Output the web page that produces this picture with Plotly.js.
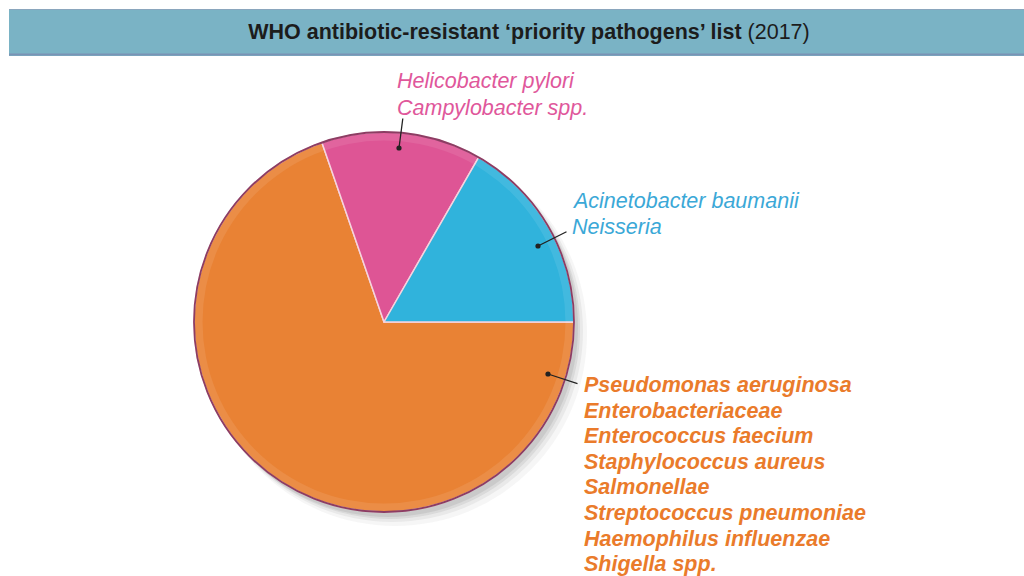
<!DOCTYPE html>
<html>
<head>
<meta charset="utf-8">
<script src="https://cdn.plot.ly/plotly-3.0.1.min.js"></script>
<style>html,body{margin:0;padding:0;background:#fff;}#chart{width:1024px;height:576px;}</style>
</head>
<body>
<div id="chart"></div>
<script>
// ---- data ----
const groups = ["Acinetobacter / Neisseria", "Helicobacter / Campylobacter", "Pseudomonas and others"];
const shares = [16.7, 13.6, 69.7];
const sliceColors = ["#30b3dc", "#de5595", "#e98234"];
const textColors = ["#3ba8d7", "#e0579b", "#ea7b2b"];
const blueLines = ["Acinetobacter baumanii", "Neisseria"];
const pinkLines = ["Helicobacter pylori", "Campylobacter spp."];
const orangeLines = ["Pseudomonas aeruginosa", "Enterobacteriaceae", "Enterococcus faecium",
  "Staphylococcus aureus", "Salmonellae", "Streptococcus pneumoniae",
  "Haemophilus influenzae", "Shigella spp."];
const titleBold = "WHO antibiotic-resistant ‘priority pathogens’ list";
const titleYear = "(2017)";

// ---- layout helpers (pixel -> paper) ----
const W = 1024, H = 576;
const cx = 384, cy = 322, R = 190;
function dom(dx, dy, r) {
  return { x: [(cx + dx - r) / W, (cx + dx + r) / W], y: [(H - (cy + dy) - r) / H, (H - (cy + dy) + r) / H] };
}
const px = v => v / W, py = v => 1 - v / H;

const common = { type: "pie", sort: false, textinfo: "none", hoverinfo: "skip", showlegend: false };

const traces = [];
// soft shadow
[[11, 12, 192, 0.05], [8, 9, 191, 0.07], [6, 7, 190, 0.09], [4, 5, 190, 0.1]].forEach(s => {
  traces.push(Object.assign({}, common, { values: [1], domain: dom(s[0], s[1], s[2]),
    marker: { colors: ["rgba(70,70,70," + s[3] + ")"], line: { width: 0 } } }));
});
// main pie: first group starts at 3 o'clock going counter-clockwise
// (drawn clockwise with reversed order so it ends at 3 o'clock)
traces.push(Object.assign({}, common, {
  values: shares.slice().reverse(), labels: groups.slice().reverse(),
  direction: "clockwise", rotation: 90,
  domain: dom(0, 0, R),
  marker: { colors: sliceColors.slice().reverse(), line: { color: "#f6d3de", width: 1.5 } }
}));
// subtle rim highlight
traces.push(Object.assign({}, common, { values: [1], hole: 0.955, domain: dom(0, 0, R),
  marker: { colors: ["rgba(255,255,255,0.09)"], line: { width: 0 } } }));
// outer outline
traces.push(Object.assign({}, common, { values: [1], domain: dom(0, 0, R),
  marker: { colors: ["rgba(0,0,0,0)"], line: { color: "#8c3d63", width: 1.8 } } }));

const annotations = [];
function label(lines, x, yFirst, step, color, bold) {
  lines.forEach((l, i) => {
    annotations.push({ xref: "paper", yref: "paper", x: px(x), y: py(yFirst + i * step), xanchor: "left", yanchor: "middle",
      align: "left", showarrow: false,
      text: "<i>" + (bold ? "<b>" + l + "</b>" : l) + "</i>",
      font: { family: "Liberation Sans, Arial, sans-serif", size: 21.5, color: color } });
  });
}
label(pinkLines, 395, 81, 26.7, textColors[1], false);
label(blueLines, 570, 201, 26, textColors[0], false);
label(orangeLines, 582, 385, 25.6, textColors[2], true);

function leader(hx, hy, ax, ay) {
  annotations.push({ xref: "paper", yref: "paper", x: px(hx), y: py(hy), ax: ax, ay: ay, text: "",
    showarrow: true, arrowhead: 6, arrowsize: 1, arrowwidth: 1.3, arrowcolor: "#222" });
}
leader(399, 148, 4, -31);
leader(538, 246, 30, -15);
leader(548, 374, 31, 10);

const layout = {
  width: W, height: H, margin: { l: 0, r: 0, t: 0, b: 0 },
  paper_bgcolor: "#ffffff",
  title: { text: "<b>" + titleBold + "</b> " + titleYear, x: px(529), xanchor: "center",
    y: py(31), yanchor: "middle", yref: "container",
    font: { family: "Liberation Sans, Arial, sans-serif", size: 21.5, color: "#1c1c1c" } },
  shapes: [
    { type: "rect", xref: "paper", yref: "paper", x0: px(9), x1: 1, y0: py(56), y1: py(9),
      fillcolor: "#7ab3c5", line: { width: 0 }, layer: "below" },
    { type: "line", xref: "paper", yref: "paper", x0: px(9), x1: 1, y0: py(54.5), y1: py(54.5),
      line: { color: "#7a93b5", width: 2 }, layer: "below" },
    { type: "line", xref: "paper", yref: "paper", x0: px(9), x1: 1, y0: py(9.5), y1: py(9.5),
      line: { color: "#8aa6bd", width: 1 }, layer: "below" }
  ],
  annotations: annotations
};

Plotly.newPlot("chart", traces, layout, { displayModeBar: false, staticPlot: true });
</script>
</body>
</html>
